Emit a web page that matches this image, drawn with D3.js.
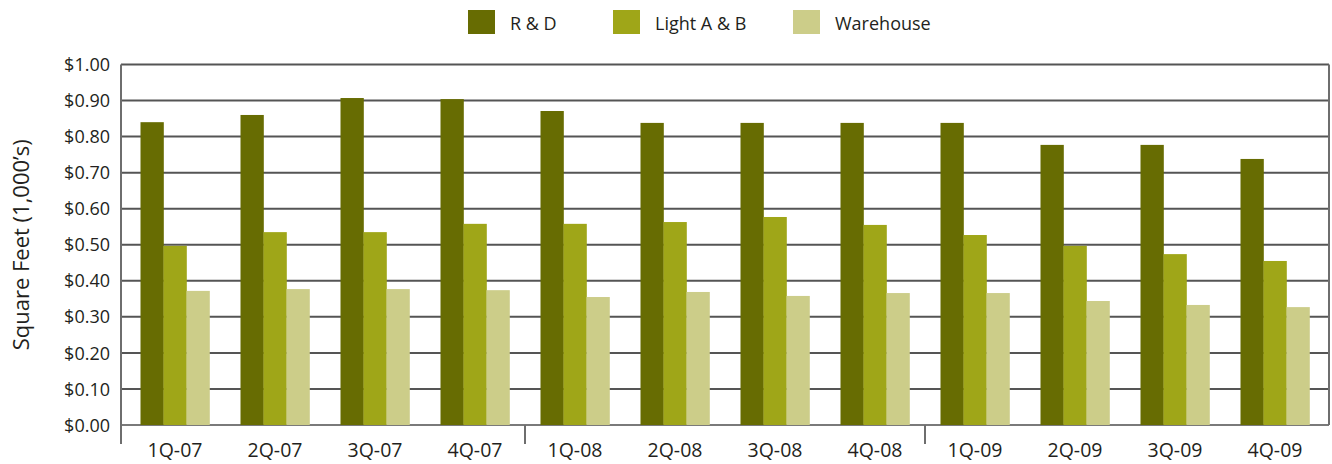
<!DOCTYPE html>
<html>
<head>
<meta charset="utf-8">
<script src="https://cdn.jsdelivr.net/npm/d3@7"></script>
<style>
  body { margin: 0; background: #fff; }
  svg text { font-family: "Open Sans", "Noto Sans", sans-serif; fill: #231f20; }
</style>
</head>
<body>
<svg id="chart" width="1332" height="464"></svg>
<script>
// chart data
var quarters = ['1Q-07', '2Q-07', '3Q-07', '4Q-07', '1Q-08', '2Q-08', '3Q-08', '4Q-08', '1Q-09', '2Q-09', '3Q-09', '4Q-09'];
var seriesNames = ['R & D', 'Light A & B', 'Warehouse'];
var rdValues = [0.840, 0.860, 0.907, 0.904, 0.871, 0.838, 0.838, 0.838, 0.838, 0.777, 0.777, 0.738];
var lightValues = [0.497, 0.535, 0.535, 0.558, 0.558, 0.563, 0.577, 0.555, 0.527, 0.497, 0.474, 0.455];
var warehouseValues = [0.372, 0.377, 0.377, 0.374, 0.355, 0.369, 0.358, 0.366, 0.366, 0.344, 0.333, 0.327];
var yTicks = [0, 0.1, 0.2, 0.3, 0.4, 0.5, 0.6, 0.7, 0.8, 0.9, 1.0];
var colors = ['#676c02', '#9fa618', '#cccd89'];

var svg = d3.select('#chart');
var plotLeft = 121, plotRight = 1329, plotTop = 64.5, plotBottom = 425;

var x = d3.scaleBand()
    .domain(quarters)
    .range([plotLeft, plotRight])
    .paddingInner(0.31)
    .paddingOuter(0.195);

var xSub = d3.scaleBand()
    .domain(seriesNames)
    .range([0, x.bandwidth()]);

var y = d3.scaleLinear()
    .domain([0, 1])
    .range([plotBottom, plotTop]);

// gridlines
svg.append('g')
    .selectAll('line')
    .data(yTicks)
    .enter()
    .append('line')
    .attr('x1', plotLeft)
    .attr('x2', plotRight)
    .attr('y1', function(d) { return y(d); })
    .attr('y2', function(d) { return y(d); })
    .attr('stroke', function(d) { return d === 0 ? '#7a7a7a' : '#555'; })
    .attr('stroke-width', 2);

// right border
svg.append('line')
    .attr('x1', plotRight).attr('x2', plotRight)
    .attr('y1', plotTop).attr('y2', plotBottom)
    .attr('stroke', '#6e6e6e')
    .attr('stroke-width', 2);

// bars
var rows = quarters.map(function(q, i) {
    return {quarter: q, values: [rdValues[i], lightValues[i], warehouseValues[i]]};
});

var group = svg.append('g')
    .selectAll('g')
    .data(rows)
    .enter()
    .append('g')
    .attr('transform', function(d) { return 'translate(' + x(d.quarter) + ',0)'; });

group.selectAll('rect')
    .data(function(d) {
        return d.values.map(function(v, i) { return {name: seriesNames[i], value: v, idx: i}; });
    })
    .enter()
    .append('rect')
    .attr('x', function(d) { return xSub(d.name); })
    .attr('width', xSub.bandwidth() + 0.3)
    .attr('y', function(d) { return y(d.value); })
    .attr('height', function(d) { return plotBottom - y(d.value); })
    .attr('fill', function(d) { return colors[d.idx]; });

// y axis
var yAxis = svg.append('g')
    .attr('transform', 'translate(' + plotLeft + ',0)')
    .call(d3.axisLeft(y)
        .tickValues(yTicks)
        .tickSize(0)
        .tickPadding(11)
        .tickFormat(function(d) { return '$' + d3.format('.2f')(d); }));
yAxis.select('.domain').remove();
yAxis.selectAll('text')
    .style('font-size', '18px')
    .attr('dy', '0.34em');

svg.append('line')
    .attr('x1', plotLeft).attr('x2', plotLeft)
    .attr('y1', plotTop).attr('y2', 444)
    .attr('stroke', '#6e6e6e')
    .attr('stroke-width', 2);

// x axis
var xAxis = svg.append('g')
    .attr('transform', 'translate(0,' + plotBottom + ')')
    .call(d3.axisBottom(x).tickSize(0).tickPadding(18));
xAxis.select('.domain').remove();
xAxis.selectAll('text')
    .style('font-size', '19.5px');

// year dividers
var dividers = [3, 7];
function dividerX(i) {
    return x(quarters[i]) + x.bandwidth() + x.step() * x.paddingInner() / 2;
}
svg.append('g')
    .selectAll('line')
    .data(dividers)
    .enter()
    .append('line')
    .attr('x1', dividerX)
    .attr('x2', dividerX)
    .attr('y1', plotBottom)
    .attr('y2', 444)
    .attr('stroke', '#6e6e6e')
    .attr('stroke-width', 2);

// y axis title
svg.append('text')
    .attr('transform', 'translate(29,' + ((plotTop + plotBottom) / 2) + ') rotate(-90)')
    .attr('text-anchor', 'middle')
    .style('font-size', '22px')
    .text('Square Feet (1,000\u2019s)');

// legend
var legendX = [468, 613, 793];
var legend = svg.append('g')
    .selectAll('g')
    .data(seriesNames)
    .enter()
    .append('g')
    .attr('transform', function(d, i) { return 'translate(' + legendX[i] + ',10)'; });

legend.append('rect')
    .attr('width', 27)
    .attr('height', 24)
    .attr('fill', function(d, i) { return colors[i]; });

legend.append('text')
    .attr('x', 42)
    .attr('y', 20)
    .style('font-size', '18px')
    .text(function(d) { return d; });
</script>
</body>
</html>
